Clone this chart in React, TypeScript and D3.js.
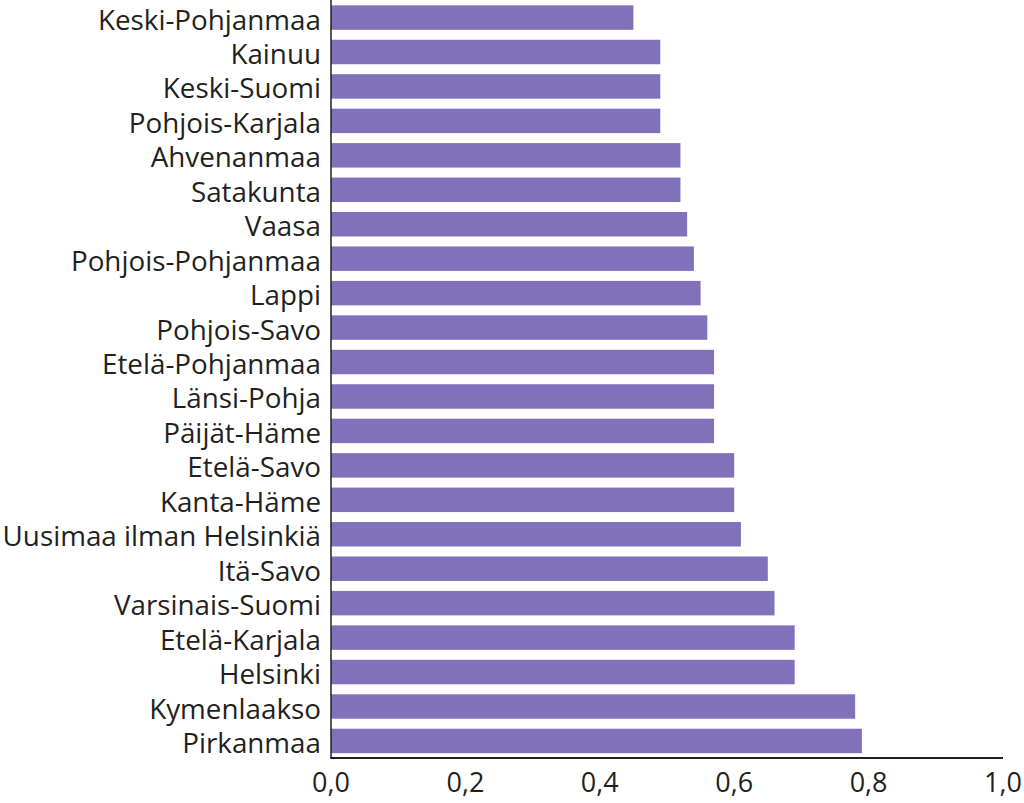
import React from "react";
import * as d3 from "d3";

const regions = [
  "Keski-Pohjanmaa",
  "Kainuu",
  "Keski-Suomi",
  "Pohjois-Karjala",
  "Ahvenanmaa",
  "Satakunta",
  "Vaasa",
  "Pohjois-Pohjanmaa",
  "Lappi",
  "Pohjois-Savo",
  "Etelä-Pohjanmaa",
  "Länsi-Pohja",
  "Päijät-Häme",
  "Etelä-Savo",
  "Kanta-Häme",
  "Uusimaa ilman Helsinkiä",
  "Itä-Savo",
  "Varsinais-Suomi",
  "Etelä-Karjala",
  "Helsinki",
  "Kymenlaakso",
  "Pirkanmaa",
];

const values = [
  0.45, 0.49, 0.49, 0.49, 0.52, 0.52, 0.53, 0.54, 0.55, 0.56, 0.57, 0.57, 0.57,
  0.6, 0.6, 0.61, 0.65, 0.66, 0.69, 0.69, 0.78, 0.79,
];

const tickValues = [0, 0.2, 0.4, 0.6, 0.8, 1.0];

const W = 1024;
const H = 803;
const left = 331;
const right = 1003;
const top = 0.5;
const bottom = 758;
const FONT = "'Open Sans', sans-serif";

export default function App() {
  const x = d3.scaleLinear().domain([0, 1]).range([left, right]);
  const y = d3
    .scaleBand<string>()
    .domain(regions)
    .range([top, bottom])
    .paddingInner(0.29)
    .paddingOuter(0.14);
  const fmt = (v: number) => d3.format(".1f")(v).replace(".", ",");

  return (
    <svg
      width={W}
      height={H}
      style={{ position: "absolute", left: 0, top: 0, background: "#fff" }}
    >
      {regions.map((r, i) => (
        <g key={r}>
          <rect
            x={x(0)}
            y={y(r)}
            width={x(values[i]) - x(0)}
            height={y.bandwidth()}
            fill="#8171bb"
          />
          <text
            x={left - 10}
            y={(y(r) as number) + y.bandwidth() / 2 + 1}
            textAnchor="end"
            dominantBaseline="central"
            fontFamily={FONT}
            fontSize={27.8}
            fill="#231f20"
          >
            {r}
          </text>
        </g>
      ))}
      <line x1={left} x2={left} y1={0} y2={bottom} stroke="#231f20" strokeWidth={1.5} />
      <line x1={left - 0.75} x2={1003} y1={bottom} y2={bottom} stroke="#231f20" strokeWidth={2} />
      {tickValues.map((t) => (
        <text
          key={t}
          x={x(t)}
          y={781}
          textAnchor="middle"
          dominantBaseline="central"
          fontFamily={FONT}
          fontSize={27}
          fill="#231f20"
        >
          {fmt(t)}
        </text>
      ))}
    </svg>
  );
}
